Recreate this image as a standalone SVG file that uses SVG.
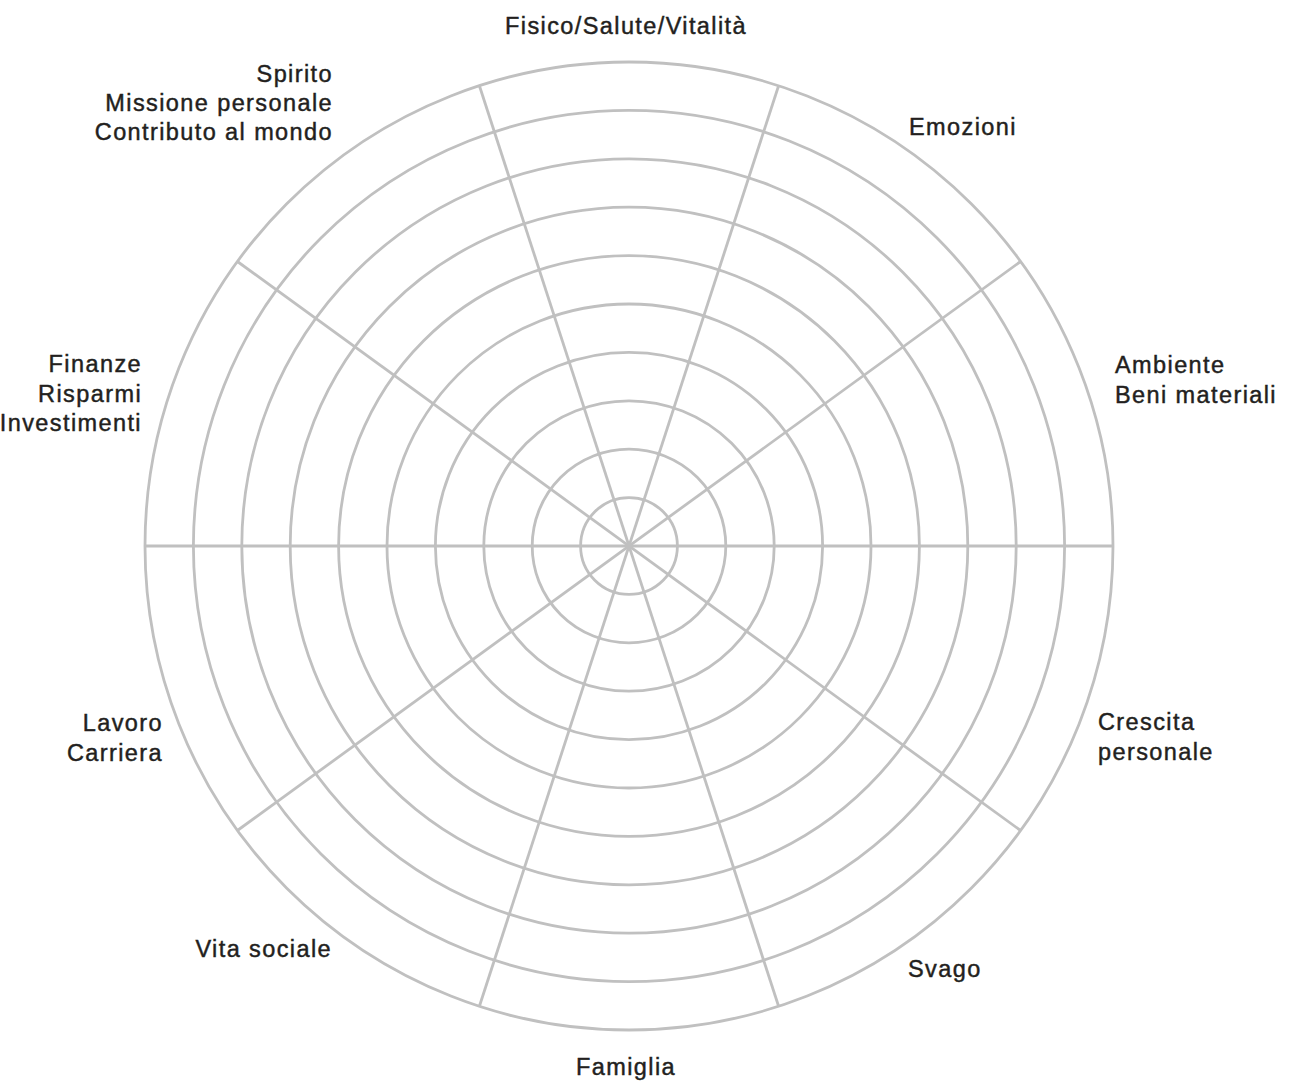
<svg xmlns="http://www.w3.org/2000/svg" width="1289" height="1083" viewBox="0 0 1289 1083">
<style>
.ring{fill:none;stroke:#c0c0c0;stroke-width:2.8}
.spoke{stroke:#c0c0c0;stroke-width:2.8}
.lbl{font-family:"Liberation Sans",Arial,sans-serif;font-size:23.5px;fill:#231f20;stroke:#231f20;stroke-width:0.45;letter-spacing:1.4px}
.e{text-anchor:end}
.m{text-anchor:middle}
</style>
<rect width="1289" height="1083" fill="#ffffff"/>
<g id="rings">
<circle class="ring" cx="629" cy="546" r="48.4"/>
<circle class="ring" cx="629" cy="546" r="96.8"/>
<circle class="ring" cx="629" cy="546" r="145.2"/>
<circle class="ring" cx="629" cy="546" r="193.6"/>
<circle class="ring" cx="629" cy="546" r="242"/>
<circle class="ring" cx="629" cy="546" r="290.4"/>
<circle class="ring" cx="629" cy="546" r="338.8"/>
<circle class="ring" cx="629" cy="546" r="387.2"/>
<circle class="ring" cx="629" cy="546" r="435.6"/>
<circle class="ring" cx="629" cy="546" r="484"/>
</g>
<g id="connectors">
<line class="spoke" x1="778.6" y1="85.7" x2="479.4" y2="1006.3"/>
<line class="spoke" x1="1020.6" y1="261.5" x2="237.4" y2="830.5"/>
<line class="spoke" x1="145" y1="546" x2="1113" y2="546"/>
<line class="spoke" x1="1020.6" y1="830.5" x2="237.4" y2="261.5"/>
<line class="spoke" x1="778.6" y1="1006.3" x2="479.4" y2="85.7"/>
</g>
<g id="label-fisico"><text class="lbl m" x="626" y="34">Fisico/Salute/Vitalità</text></g>
<g id="label-emozioni"><text class="lbl" x="909" y="135">Emozioni</text></g>
<g id="label-ambiente"><text class="lbl" x="1115" y="373">Ambiente</text><text class="lbl" x="1115" y="403">Beni materiali</text></g>
<g id="label-crescita"><text class="lbl" x="1098" y="730">Crescita</text><text class="lbl" x="1098" y="760">personale</text></g>
<g id="label-svago"><text class="lbl" x="908" y="977">Svago</text></g>
<g id="label-famiglia"><text class="lbl m" x="626" y="1075">Famiglia</text></g>
<g id="label-vita"><text class="lbl e" x="332" y="957">Vita sociale</text></g>
<g id="label-lavoro"><text class="lbl e" x="163" y="731">Lavoro</text><text class="lbl e" x="163" y="761">Carriera</text></g>
<g id="label-finanze"><text class="lbl e" x="142" y="372">Finanze</text><text class="lbl e" x="142" y="402">Risparmi</text><text class="lbl e" x="142" y="431">Investimenti</text></g>
<g id="label-spirito"><text class="lbl e" x="333" y="82">Spirito</text><text class="lbl e" x="333" y="111">Missione personale</text><text class="lbl e" x="333" y="140">Contributo al mondo</text></g>
</svg>
